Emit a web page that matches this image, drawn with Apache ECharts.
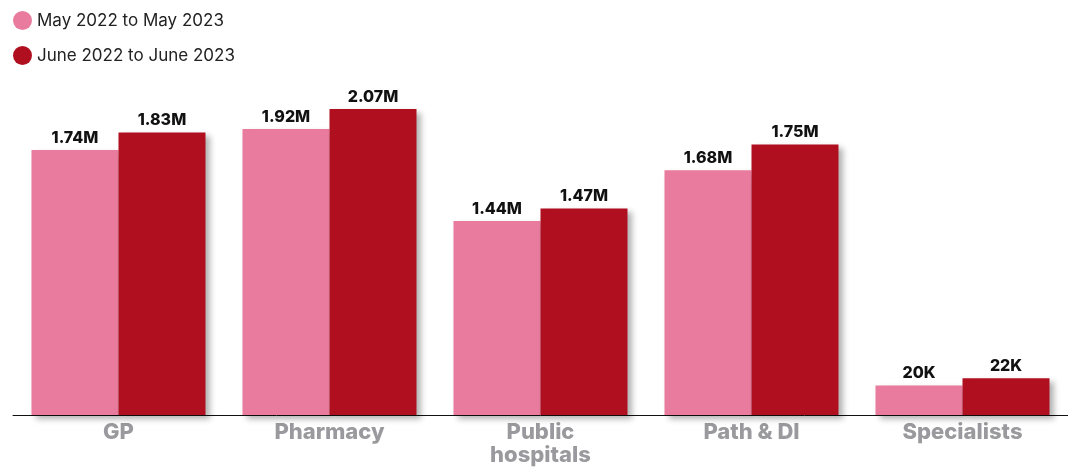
<!DOCTYPE html>
<html><head><meta charset="utf-8">
<script src="https://cdn.jsdelivr.net/npm/echarts@6/dist/echarts.min.js"></script>
<style>html,body{margin:0;padding:0;background:#fff}#c{width:1068px;height:468px}</style>
</head><body><div id="c"></div>
<script>
const categories = ['GP', 'Pharmacy', 'Public\nhospitals', 'Path & DI', 'Specialists'];
const seriesNames = ['May 2022 to May 2023', 'June 2022 to June 2023'];
// bar heights as drawn (millions)
const mayValues = [1.656, 1.788, 1.213, 1.529, 0.185];
const juneValues = [1.766, 1.913, 1.291, 1.691, 0.229];
// printed labels
const mayLabels = ['1.74M', '1.92M', '1.44M', '1.68M', '20K'];
const juneLabels = ['1.83M', '2.07M', '1.47M', '1.75M', '22K'];

const chart = echarts.init(document.getElementById('c'));
const shadow = {shadowColor: 'rgba(0,0,0,0.3)', shadowBlur: 6, shadowOffsetX: 4, shadowOffsetY: 4};
const lbl = (arr) => ({
  show: true, position: 'top', distance: 4,
  fontFamily: 'Inter', fontWeight: 800, fontSize: 16, color: '#111',
  formatter: p => arr[p.dataIndex]
});
chart.setOption({
  animation: false,
  textStyle: {fontFamily: 'Inter'},
  legend: {
    orient: 'vertical', left: 8, top: 6, itemGap: 16,
    icon: 'circle', itemWidth: 19, itemHeight: 19,
    textStyle: {fontFamily: 'Inter', fontSize: 17, color: '#222'},
    data: seriesNames
  },
  grid: {left: 13, right: -4, top: 15, bottom: 53},
  xAxis: {
    type: 'category', data: categories,
    axisLine: {lineStyle: {color: '#111', width: 1}},
    axisTick: {show: false},
    axisLabel: {fontFamily: 'Inter', fontWeight: 800, fontSize: 22, color: '#9a9a9e', lineHeight: 23, margin: 6}
  },
  yAxis: {type: 'value', min: 0, max: 2.5, show: false, splitLine: {show: false}},
  series: [
    {name: seriesNames[0], type: 'bar', data: mayValues, barWidth: 87, barGap: '0%',
     itemStyle: Object.assign({color: '#e87b9e'}, shadow), label: lbl(mayLabels)},
    {name: seriesNames[1], type: 'bar', data: juneValues, barWidth: 87, barGap: '0%',
     itemStyle: Object.assign({color: '#b00f20'}, shadow), label: lbl(juneLabels)}
  ]
});
</script></body></html>
